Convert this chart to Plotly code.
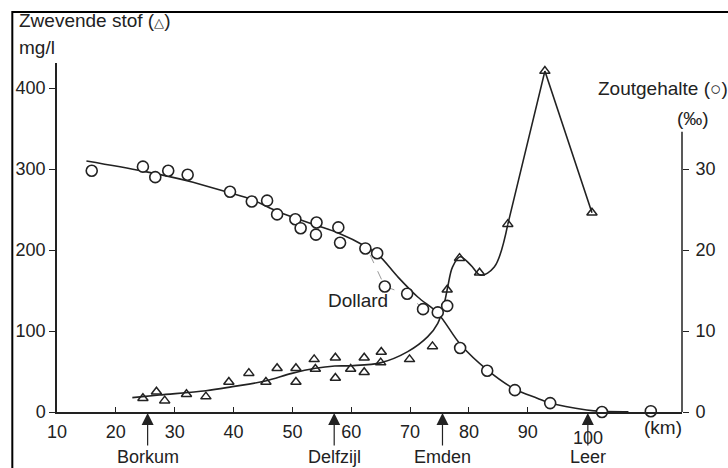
import plotly.graph_objects as go

# --- data ---
sal_km = [15.9, 24.6, 26.7, 28.9, 32.2, 39.4, 43.1, 45.7, 47.4, 50.5, 51.4, 54.1, 54.0, 57.8,
          58.1, 62.4, 64.4, 65.7, 69.5, 72.2, 74.7, 76.3, 78.5, 83.1, 87.8, 93.8, 102.6, 110.9]
sal_val = [29.8, 30.3, 29.0, 29.8, 29.3, 27.2, 26.0, 26.1, 24.4, 23.8, 22.7, 23.4, 21.9, 22.8,
           20.9, 20.2, 19.6, 15.5, 14.6, 12.7, 12.3, 13.1, 7.9, 5.1, 2.7, 1.1, 0.0, 0.1]

susp_km = [24.6, 26.9, 28.3, 32.0, 35.3, 39.2, 42.6, 45.5, 47.4, 50.6, 50.6, 53.7, 53.9, 57.3,
           57.3, 59.9, 62.2, 62.2, 65.1, 65.0, 69.9, 73.8, 76.3, 78.4, 81.8, 86.6, 92.9, 100.9]
susp_val = [17, 25, 14, 22, 19, 37, 48, 37, 54, 54, 37, 65, 53, 67,
            42, 53, 67, 49, 74, 61, 65, 81, 151, 190, 172, 232, 421, 246]

sal_curve_km = [15.0, 24.6, 31.9, 39.2, 43.2, 47.7, 53.9, 57.8, 62.3, 64.6, 67.9, 71.3, 74.7,
                78.6, 83.1, 87.6, 91.6, 93.8, 100.0, 102.6, 107.1]
sal_curve_val = [31.0, 29.75, 28.6, 27.1, 26.2, 24.7, 23.1, 22.1, 20.5, 19.4, 16.7, 14.2, 12.2,
                 8.3, 5.2, 2.9, 1.7, 1.1, 0.25, 0.08, 0.04]

susp_curve_km = [22.8, 27.4, 35.3, 39.8, 45.4, 49.9, 53.9, 57.2, 60.0, 65.1, 69.6, 73.0, 74.7,
                 75.8, 76.4, 77.2, 78.5, 80.3, 82.0, 84.3, 86.6]
susp_curve_val = [17.7, 21, 26.3, 31.3, 38.3, 47.7, 54, 56.8, 57.2, 61, 74.5, 93, 109.5,
                  134, 154.7, 179, 191.7, 181.5, 169, 179, 231.7]

peak_km = [86.6, 92.9, 100.9]
peak_val = [231.7, 421, 246]

dollard_km = [63.2, 65.7, 69.6, 71.8]
dollard_val = [19.4, 15.5, 14.5, 13.0]

places = ["Borkum", "Delfzijl", "Emden", "Leer"]
places_km = [25.4, 57.1, 75.5, 100.2]

x_ticks = [10, 20, 30, 40, 50, 60, 70, 80, 90]
y_ticks = [0, 100, 200, 300, 400]
y2_ticks = [0, 10, 20, 30]

FONT = "Liberation Sans, Arial, sans-serif"
INK = "#222222"

fig = go.Figure()

fig.add_trace(go.Scatter(x=sal_curve_km, y=sal_curve_val, yaxis="y2", mode="lines",
                         line=dict(color=INK, width=1.6, shape="spline"), cliponaxis=False,
                         showlegend=False, hoverinfo="skip"))
fig.add_trace(go.Scatter(x=dollard_km, y=dollard_val, yaxis="y2", mode="lines",
                         line=dict(color="#999999", width=1, dash="dash"),
                         showlegend=False, hoverinfo="skip"))
fig.add_trace(go.Scatter(x=susp_curve_km, y=susp_curve_val, mode="lines",
                         line=dict(color=INK, width=1.6, shape="spline"),
                         showlegend=False, hoverinfo="skip"))
fig.add_trace(go.Scatter(x=peak_km, y=peak_val, mode="lines",
                         line=dict(color=INK, width=1.6),
                         showlegend=False, hoverinfo="skip"))
fig.add_trace(go.Scatter(x=susp_km, y=susp_val, mode="markers", cliponaxis=False,
                         marker=dict(symbol="triangle-up-open", size=9, color=INK,
                                     line=dict(width=1.5, color=INK)),
                         showlegend=False))
fig.add_trace(go.Scatter(x=sal_km, y=sal_val, yaxis="y2", mode="markers", cliponaxis=False,
                         marker=dict(symbol="circle", size=11, color="white",
                                     line=dict(width=1.6, color=INK)),
                         showlegend=False))

annotations = []
for name, km in zip(places, places_km):
    annotations.append(dict(x=km, y=0, xref="x", yref="y", text=name, showarrow=True,
                            ax=0, ay=45, arrowhead=2, arrowsize=2.0, arrowwidth=1.2,
                            arrowcolor=INK, standoff=1,
                            font=dict(family=FONT, size=18, color=INK)))
annotations.append(dict(x=100.2, y=0, xref="x", yref="y", text="100", showarrow=False,
                        yshift=-26, bgcolor="rgba(0,0,0,0)",
                        font=dict(family=FONT, size=18, color=INK)))
annotations.append(dict(x=112.9, y=0, xref="x", yref="y", text="(km)", showarrow=False,
                        yshift=-15, font=dict(family=FONT, size=19, color=INK)))
annotations.append(dict(x=61.2, y=138, xref="x", yref="y", text="Dollard", showarrow=False,
                        font=dict(family=FONT, size=19, color=INK)))
annotations.append(dict(x=-0.0636, y=1.123, xref="paper", yref="paper", xanchor="left",
                        yanchor="middle", text="Zwevende stof (<span style='font-size:13px'>△</span>)",
                        showarrow=False, font=dict(family=FONT, size=19, color=INK)))
annotations.append(dict(x=-0.0636, y=1.043, xref="paper", yref="paper", xanchor="left",
                        yanchor="middle", text="mg/l", showarrow=False,
                        font=dict(family=FONT, size=19, color=INK)))
annotations.append(dict(x=0.863, y=0.928, xref="paper", yref="paper", xanchor="left",
                        yanchor="middle", text="Zoutgehalte (○)", showarrow=False,
                        font=dict(family=FONT, size=19, color=INK)))
annotations.append(dict(x=1.0175, y=0.842, xref="paper", yref="paper", xanchor="center",
                        yanchor="middle", text="(‰)", showarrow=False,
                        font=dict(family=FONT, size=19, color=INK)))

shapes = [
    dict(type="line", xref="paper", yref="y2", x0=1, x1=1, y0=0, y1=34.6,
         line=dict(color=INK, width=1.5)),
    dict(type="rect", xref="paper", yref="paper", x0=-0.0715, x1=1.08, y0=-0.2, y1=1.146,
         line=dict(color="black", width=2)),
]

fig.update_layout(
    width=728, height=468,
    margin=dict(l=57, r=42, t=63, b=56),
    paper_bgcolor="white", plot_bgcolor="white",
    font=dict(family=FONT, size=18, color=INK),
    xaxis=dict(range=[10, 116.2], tickvals=x_ticks, showgrid=False, zeroline=False,
               showline=True, linecolor=INK, linewidth=1.5, ticks="inside", ticklen=5,
               tickcolor=INK, ticklabelstandoff=3, tickfont=dict(size=18)),
    yaxis=dict(range=[0, 431], tickvals=y_ticks, showgrid=False, zeroline=False,
               showline=True, linecolor=INK, linewidth=1.5, ticks="outside", ticklen=6,
               tickcolor=INK, tickfont=dict(size=18), ticklabelstandoff=0),
    yaxis2=dict(range=[0, 43.1], tickvals=y2_ticks, overlaying="y", side="right",
                showgrid=False, zeroline=False, showline=False, ticks="outside", ticklen=6,
                tickcolor=INK, tickfont=dict(size=18), ticklabelstandoff=3),
    annotations=annotations,
    shapes=shapes,
    showlegend=False,
)

fig.write_html("out.html", config={"displayModeBar": False},
               post_script="document.body.style.margin='0';document.body.style.overflow='hidden';")
